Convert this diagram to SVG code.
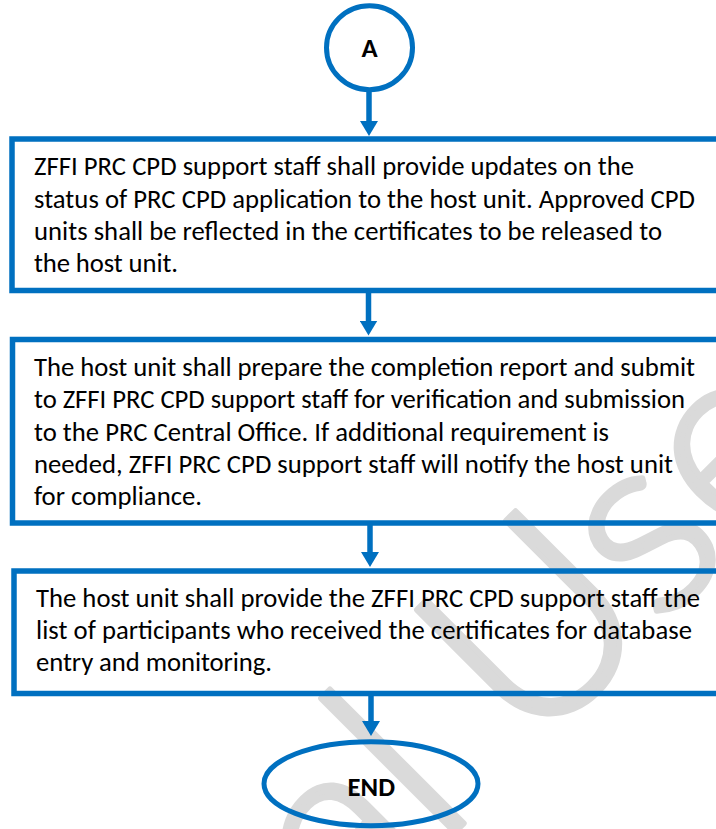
<svg xmlns="http://www.w3.org/2000/svg" width="716" height="829" viewBox="0 0 716 829">
<style>
.box{fill:none;stroke:#0070C0;stroke-width:5.5}
.term{fill:none;stroke:#0070C0;stroke-width:5}
.conn{stroke:#0070C0;stroke-width:5.5;fill:none}
.txt{font-family:Carlito,"Open Sans","Liberation Sans",sans-serif;font-size:26.7px;fill:#000}
.lbl{font-family:Carlito,"Open Sans","Liberation Sans",sans-serif;font-size:26.7px;font-weight:bold;fill:#000;text-anchor:middle}
.wm{font-family:Lato,"Open Sans",sans-serif;font-size:260px;font-weight:300;fill:#dadada;stroke:#dadada;stroke-width:6;stroke-linejoin:round}
</style>
<defs>
<marker id="ah" markerUnits="userSpaceOnUse" markerWidth="16" markerHeight="18" viewBox="0 0 16 18" refX="1" refY="9" orient="auto">
<path d="M0,0 L15,9 L0,18 z" fill="#0070C0"/>
</marker>
</defs>
<rect width="716" height="829" fill="#fff"/>
<g id="watermark">
<text class="wm" transform="translate(350,937) rotate(-45)">al Use</text>
</g>
<g id="connectors">
<line class="conn" x1="369" y1="92" x2="369" y2="122" marker-end="url(#ah)"/>
<line class="conn" x1="368.5" y1="293" x2="368.5" y2="321.5" marker-end="url(#ah)"/>
<line class="conn" x1="370" y1="525" x2="370" y2="553" marker-end="url(#ah)"/>
<line class="conn" x1="371" y1="696" x2="371" y2="722" marker-end="url(#ah)"/>
</g>
<g id="nodeA">
<ellipse class="term" cx="369.5" cy="47.7" rx="43" ry="42"/>
<text class="lbl" x="369.5" y="57.3">A</text>
</g>
<g id="box1">
<rect class="box" x="12" y="139" width="730" height="151.5"/>
<text class="txt" x="34" y="175" textLength="600" lengthAdjust="spacing">ZFFI PRC CPD support staff shall provide updates on the</text>
<text class="txt" x="34" y="208" textLength="661" lengthAdjust="spacing">status of PRC CPD application to the host unit. Approved CPD</text>
<text class="txt" x="34" y="240" textLength="628" lengthAdjust="spacing">units shall be reflected in the certificates to be released to</text>
<text class="txt" x="34" y="272" textLength="144" lengthAdjust="spacing">the host unit.</text>
</g>
<g id="box2">
<rect class="box" x="12.5" y="339.5" width="730" height="183.5"/>
<text class="txt" x="34" y="376" textLength="661" lengthAdjust="spacing">The host unit shall prepare the completion report and submit</text>
<text class="txt" x="34" y="408" textLength="651" lengthAdjust="spacing">to ZFFI PRC CPD support staff for verification and submission</text>
<text class="txt" x="34" y="441" textLength="575" lengthAdjust="spacing">to the PRC Central Office. If additional requirement is</text>
<text class="txt" x="34" y="473" textLength="639" lengthAdjust="spacing">needed, ZFFI PRC CPD support staff will notify the host unit</text>
<text class="txt" x="34" y="505" textLength="168" lengthAdjust="spacing">for compliance.</text>
</g>
<g id="box3">
<rect class="box" x="14" y="571" width="730" height="122.5"/>
<text class="txt" x="36" y="606.5" textLength="664" lengthAdjust="spacing">The host unit shall provide the ZFFI PRC CPD support staff the</text>
<text class="txt" x="36" y="638.5" textLength="656" lengthAdjust="spacing">list of participants who received the certificates for database</text>
<text class="txt" x="36" y="671" textLength="236" lengthAdjust="spacing">entry and monitoring.</text>
</g>
<g id="nodeEND">
<ellipse class="term" cx="371" cy="783.7" rx="107" ry="42"/>
<text class="lbl" x="371.3" y="796">END</text>
</g>
</svg>
